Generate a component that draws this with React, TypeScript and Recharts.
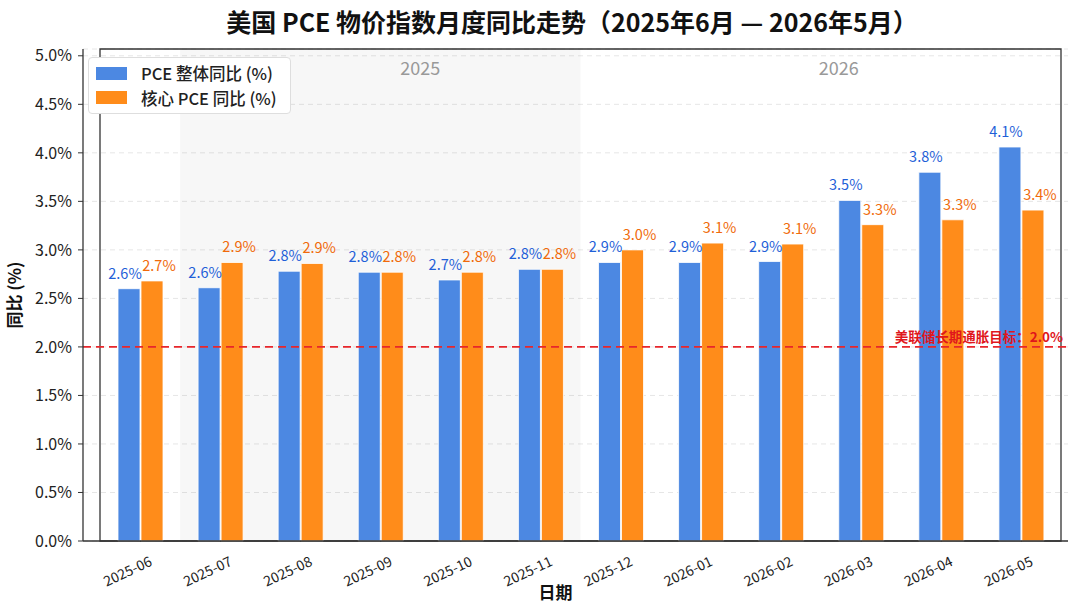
import React from 'react';
import {
  BarChart, Bar, XAxis, YAxis, CartesianGrid, ReferenceLine, ReferenceArea, LabelList, Legend,
} from 'recharts';

const months = ['2025-06', '2025-07', '2025-08', '2025-09', '2025-10', '2025-11', '2025-12', '2026-01', '2026-02', '2026-03', '2026-04', '2026-05'];
const pceHeadline = [2.60, 2.61, 2.78, 2.77, 2.69, 2.80, 2.87, 2.87, 2.88, 3.51, 3.80, 4.06];
const pceCore = [2.68, 2.87, 2.86, 2.77, 2.77, 2.80, 3.00, 3.07, 3.06, 3.26, 3.31, 3.41];
const yTicks = [0, 0.5, 1.0, 1.5, 2.0, 2.5, 3.0, 3.5, 4.0, 4.5, 5.0];
const fedTarget = 2.0;

const data = months.map((m, i) => ({ month: m, headline: pceHeadline[i], core: pceCore[i] }));

const FONT = '"Noto Sans CJK SC", "Noto Sans", sans-serif';
const BLUE = '#4C88E2';
const ORANGE = '#FF8C1A';
const BLUE_TXT = '#1F5FD8';
const ORANGE_TXT = '#F06A0A';

const legendItems = [
  { label: 'PCE 整体同比 (%)', color: BLUE },
  { label: '核心 PCE 同比 (%)', color: ORANGE },
];

const renderLegend = () => (
  <div style={{
    background: '#fff', border: '1px solid #dedede', borderRadius: 4, padding: '3px 6px 3px 7px',
    fontFamily: FONT, fontSize: 16.5, fontWeight: 500, color: '#222', boxSizing: 'border-box', width: 203,
  }}>
    {legendItems.map((it) => (
      <div key={it.label} style={{ display: 'flex', alignItems: 'center', height: 24.5, whiteSpace: 'nowrap' }}>
        <span style={{ display: 'inline-block', width: 31, height: 13, background: it.color, marginRight: 14, flex: 'none' }} />
        <span>{it.label}</span>
      </div>
    ))}
  </div>
);

const XTick = (props: any) => {
  const { x, y, payload } = props;
  return (
    <g transform={`translate(${x + 13},${y + 16})`}>
      <text x={0} y={0} textAnchor="end" transform="rotate(-25)" fill="#222" fontSize={14} fontFamily={FONT}>
        {payload.value}
      </text>
    </g>
  );
};

const YLabel = (props: any) => {
  const vb = props.viewBox || {};
  const cx = (vb.x || 0) + 16;
  const cy = (vb.y || 0) + (vb.height || 0) / 2;
  return (
    <text x={cx} y={cy} transform={`rotate(-90 ${cx} ${cy})`} textAnchor="middle" dominantBaseline="middle"
      fontSize={17} fontWeight={700} fill="#111" fontFamily={FONT}>
      同比 (%)
    </text>
  );
};

export default function App() {
  return (
    <div style={{ position: 'absolute', left: 0, top: 0, width: 1080, height: 608, background: '#fff', fontFamily: FONT }}>
      <div style={{
        position: 'absolute', top: 3, left: 0, width: 1080, paddingLeft: 64, boxSizing: 'border-box',
        textAlign: 'center', fontSize: 25, fontWeight: 700, color: '#111', fontFamily: FONT, whiteSpace: 'nowrap',
      }}>
        美国 PCE 物价指数月度同比走势（2025年6月 — 2026年5月）
      </div>
      <BarChart width={1080} height={608} data={data} margin={{ top: 49, right: 12, bottom: 0, left: 0 }}
        barSize={22} barGap={1} style={{ position: 'absolute', left: 0, top: 0 }}>
        <CartesianGrid vertical={false} stroke="#e6e6e6" strokeDasharray="5 4" />
        <ReferenceArea x1="2025-07" x2="2025-11" fill="#000" fillOpacity={0.03} stroke="none"
          label={{ value: '2025', position: 'insideTop', offset: 13, dx: 40, fill: '#999', fontSize: 18, fontFamily: FONT }} />
        <ReferenceArea x1="2025-12" fill="none" stroke="none"
          label={{ value: '2026', position: 'insideTop', offset: 13, dx: 18, fill: '#999', fontSize: 18, fontFamily: FONT }} />
        <XAxis dataKey="month" height={67} padding={{ left: 17, right: 7 }} tick={<XTick />} tickLine={false}
          axisLine={{ stroke: '#333', strokeWidth: 1.3 }} interval={0}
          label={{ value: '日期', position: 'insideBottom', offset: 9, dx: -20, fontSize: 17, fontWeight: 700, fill: '#111', fontFamily: FONT }} />
        <YAxis width={83} domain={[0, 5.07]} ticks={yTicks} tickFormatter={(v: number) => `${v.toFixed(1)}%`}
          tick={{ fill: '#222', fontSize: 16, fontFamily: FONT }} tickSize={5} tickMargin={6}
          tickLine={{ stroke: '#333' }} axisLine={{ stroke: '#333', strokeWidth: 1.3 }}
          label={<YLabel />} />
        <Legend layout="horizontal" verticalAlign="middle" align="center" content={renderLegend}
          wrapperStyle={{ position: 'absolute', top: 57, left: 88, width: 203, height: 56 }} />
        <Bar dataKey="headline" name="PCE 整体同比 (%)" fill={BLUE} stroke="#fff" strokeWidth={0.8} isAnimationActive={false}>
          <LabelList dataKey="headline" position="top" offset={10} dx={-4} fill={BLUE_TXT} fontSize={14.5} fontFamily={FONT}
            formatter={(v: any) => `${Number(v).toFixed(1)}%`} />
        </Bar>
        <Bar dataKey="core" name="核心 PCE 同比 (%)" fill={ORANGE} stroke="#fff" strokeWidth={0.8} isAnimationActive={false}>
          <LabelList dataKey="core" position="top" offset={10} dx={7} fill={ORANGE_TXT} fontSize={14.5} fontFamily={FONT}
            formatter={(v: any) => `${Number(v).toFixed(1)}%`} />
        </Bar>
        <ReferenceLine y={fedTarget} stroke="#E8262B" strokeWidth={1.8} strokeDasharray="8 5"
          label={{ value: '美联储长期通胀目标：2.0%', position: 'insideBottomRight', offset: 5, fill: '#E0161C', fontSize: 13.5, fontWeight: 700, fontFamily: FONT }} />
        <ReferenceArea y1={0} y2={5.07} fill="none" stroke="#333" strokeWidth={1.3} ifOverflow="visible" />
      </BarChart>
    </div>
  );
}
